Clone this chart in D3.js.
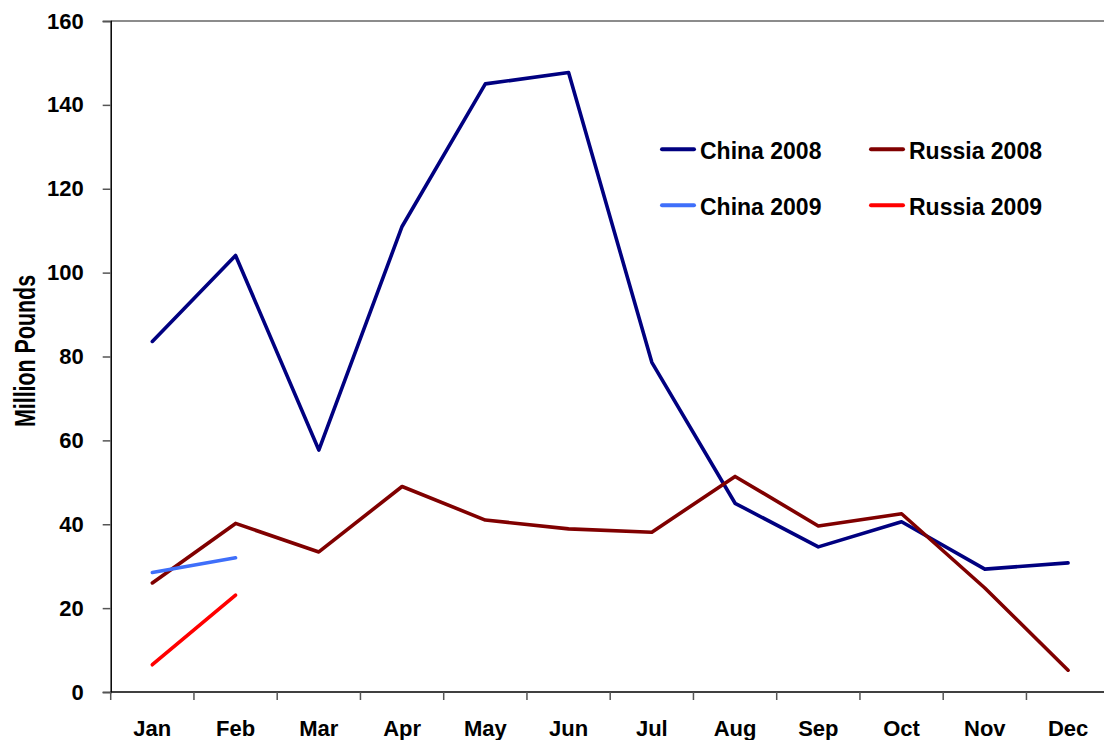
<!DOCTYPE html>
<html>
<head>
<meta charset="utf-8">
<script src="https://cdn.jsdelivr.net/npm/d3@7"></script>
<style>
  html, body { margin: 0; padding: 0; background: #fff; }
  svg { display: block; font-family: "Liberation Sans", Arial, sans-serif; font-weight: bold; }
</style>
</head>
<body>
<svg id="chart" width="1104" height="740"></svg>
<script>
const months = ["Jan","Feb","Mar","Apr","May","Jun","Jul","Aug","Sep","Oct","Nov","Dec"];
const china2008 = [83.6, 104.1, 57.7, 111.0, 145.0, 147.7, 78.6, 45.0, 34.6, 40.6, 29.3, 30.8];
const russia2008 = [26.0, 40.2, 33.4, 49.0, 41.0, 38.9, 38.1, 51.4, 39.6, 42.5, 24.8, 5.2];
const china2009 = [28.5, 32.0];
const russia2009 = [6.5, 23.1];
const yTicks = [0, 20, 40, 60, 80, 100, 120, 140, 160];

const series = [
  { name: "China 2008", values: china2008, color: "#000080" },
  { name: "Russia 2008", values: russia2008, color: "#800000" },
  { name: "China 2009", values: china2009, color: "#3f6ffa" },
  { name: "Russia 2009", values: russia2009, color: "#ff0000" }
];

const svg = d3.select("#chart");
const pLeft = 110.7, pRight = 1109.7, pTop = 21, pBottom = 692;

const x = d3.scaleBand().domain(months).range([pLeft, pRight]).padding(0);
const y = d3.scaleLinear().domain([0, 160]).range([pBottom, pTop]);
const cx = m => x(m) + x.bandwidth() / 2;

// top border line
svg.append("line")
  .attr("x1", pLeft).attr("x2", 1104)
  .attr("y1", y(160)).attr("y2", y(160))
  .attr("stroke", "#8c8c8c").attr("stroke-width", 2);

// y axis
const yAxis = svg.append("g")
  .attr("transform", `translate(${pLeft},0)`)
  .call(d3.axisLeft(y).tickValues(yTicks).tickSize(8).tickPadding(19));
yAxis.select(".domain").attr("stroke", "#000").attr("stroke-width", 1.5);
yAxis.selectAll(".tick line").attr("stroke", "#555").attr("stroke-width", 1.5);
yAxis.selectAll("text").attr("font-size", 22).attr("font-weight", "bold")
  .attr("font-family", "Liberation Sans, Arial, sans-serif").attr("fill", "#000");

// x axis with ticks at category boundaries
const xAxis = svg.append("g").attr("transform", `translate(0,${pBottom})`);
xAxis.append("line").attr("x1", pLeft).attr("x2", 1104).attr("y1", 0).attr("y2", 0)
  .attr("stroke", "#000").attr("stroke-width", 1.5);
xAxis.selectAll("line.tick").data(months).enter().append("line")
  .attr("class", "tick")
  .attr("x1", d => x(d)).attr("x2", d => x(d))
  .attr("y1", 0).attr("y2", 8)
  .attr("stroke", "#555").attr("stroke-width", 1.5);
xAxis.selectAll("text").data(months).enter().append("text")
  .attr("x", d => cx(d)).attr("y", 44)
  .attr("text-anchor", "middle")
  .attr("font-size", 22).attr("fill", "#000")
  .text(d => d);

// y axis title
svg.append("text")
  .attr("transform", `translate(35,351) rotate(-90) scale(0.714,1)`)
  .attr("text-anchor", "middle")
  .attr("font-size", 30).attr("fill", "#000")
  .text("Million Pounds");

// lines
const line = d3.line().x((d, i) => cx(months[i])).y(d => y(d));
series.forEach(s => {
  svg.append("path")
    .datum(s.values)
    .attr("fill", "none")
    .attr("stroke", s.color)
    .attr("stroke-width", 3.6)
    .attr("stroke-linejoin", "round")
    .attr("stroke-linecap", "round")
    .attr("d", line);
});

// legend
const legendPos = [
  { lx: 661, ty: 159 }, { lx: 870, ty: 159 },
  { lx: 661, ty: 215 }, { lx: 870, ty: 215 }
];
series.forEach((s, i) => {
  const p = legendPos[i];
  const g = svg.append("g");
  g.append("line")
    .attr("x1", p.lx + 1).attr("x2", p.lx + 33)
    .attr("y1", p.ty - 9.8).attr("y2", p.ty - 9.8)
    .attr("stroke", s.color).attr("stroke-width", 4)
    .attr("stroke-linecap", "round");
  g.append("text")
    .attr("x", p.lx + 39).attr("y", p.ty)
    .attr("font-size", 23).attr("fill", "#000")
    .text(s.name);
});
</script>
</body>
</html>
